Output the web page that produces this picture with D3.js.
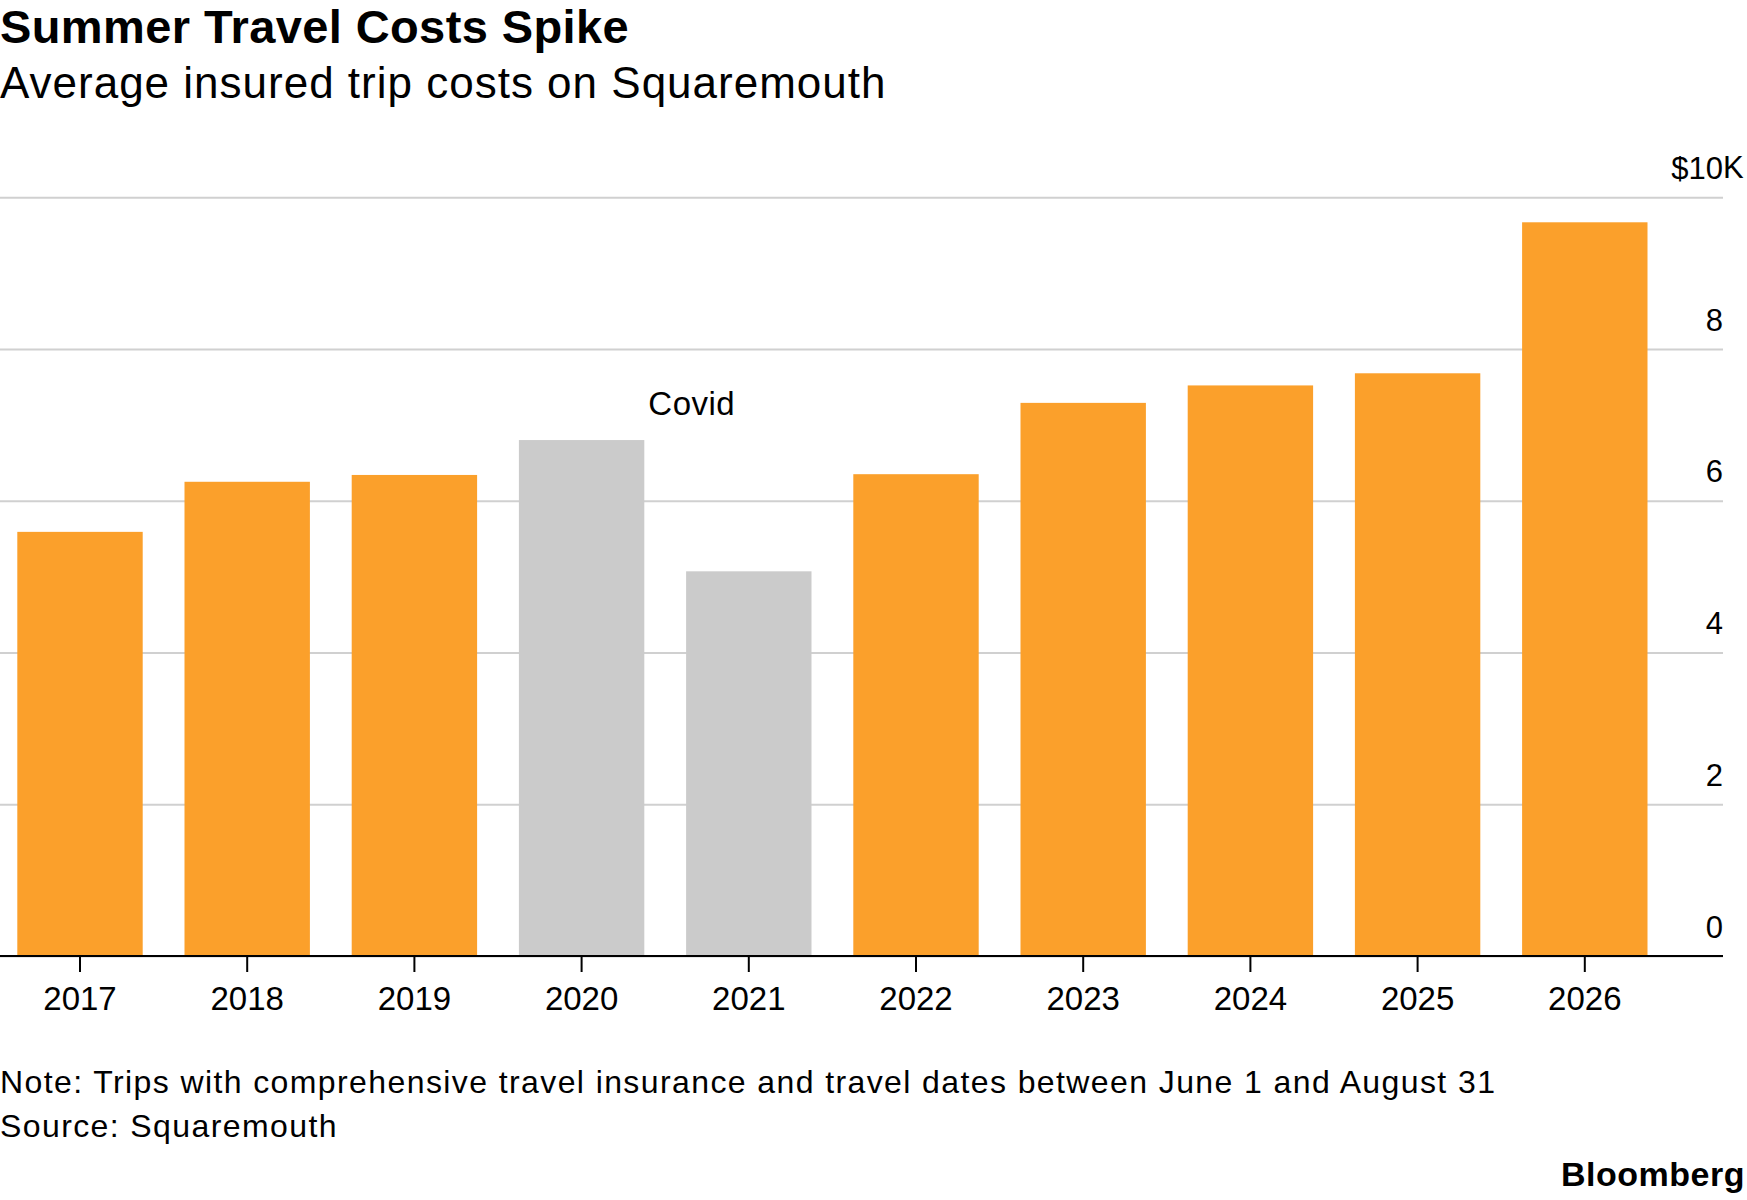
<!DOCTYPE html>
<html>
<head>
<meta charset="utf-8">
<script src="https://cdn.jsdelivr.net/npm/d3@7"></script>
<style>
  body { margin: 0; background: #fff; }
  svg { display: block; font-family: "Liberation Sans", Arial, sans-serif; }
</style>
</head>
<body>
<svg width="1747" height="1200"></svg>
<script>
const years = ['2017', '2018', '2019', '2020', '2021', '2022', '2023', '2024', '2025', '2026']
const costs = [5.59, 6.25, 6.34, 6.80, 5.07, 6.35, 7.29, 7.52, 7.68, 9.67] // $ thousands
const covidYears = ['2020', '2021']
const yTicks = [0, 2, 4, 6, 8, 10]

const svg = d3.select('svg')

// Title block
svg.append('text')
  .attr('x', 0).attr('y', 43)
  .attr('font-size', 47).attr('font-weight', 700)
  .attr('letter-spacing', 0.4)
  .text('Summer Travel Costs Spike')
svg.append('text')
  .attr('x', 0).attr('y', 98)
  .attr('font-size', 44)
  .attr('letter-spacing', 1)
  .text('Average insured trip costs on Squaremouth')

const x = d3.scaleBand()
  .domain(years)
  .range([-3.6, 1668.4])
  .paddingInner(0.25)
  .paddingOuter(0.125)
const y = d3.scaleLinear().domain([0, 10]).range([956, 197.25])

// gridlines + right-side labels
const yAxis = svg.append('g')
  .attr('transform', 'translate(1723,0)')
  .call(d3.axisLeft(y).tickValues(yTicks).tickSize(1723)
    .tickFormat((d) => (d === 10 ? '$10' : d)))
yAxis.select('.domain').remove()
yAxis.selectAll('line').attr('stroke', '#d0d0d0').attr('stroke-width', 2)
yAxis.selectAll('text')
  .attr('x', 0).attr('y', -19).attr('dy', null)
  .attr('text-anchor', 'end')
  .attr('font-size', 31).attr('font-family', null).attr('fill', '#000')
yAxis.append('text')
  .attr('x', 0).attr('y', y(10) - 19)
  .attr('text-anchor', 'start')
  .attr('font-size', 31).attr('fill', '#000')
  .text('K')

// bars
svg.append('g')
  .selectAll('rect')
  .data(years)
  .join('rect')
  .attr('x', (d) => x(d))
  .attr('width', x.bandwidth())
  .attr('y', (d, i) => y(costs[i]))
  .attr('height', (d, i) => y(0) - y(costs[i]))
  .attr('fill', (d) => (covidYears.includes(d) ? '#cbcbcb' : '#fba02b'))

// baseline + year ticks
const xAxis = svg.append('g')
  .attr('transform', `translate(0,${y(0)})`)
  .call(d3.axisBottom(x).tickSize(16).tickSizeOuter(0))
xAxis.select('.domain').remove()
xAxis.append('line')
  .attr('x1', 0).attr('x2', 1723)
  .attr('stroke', '#000').attr('stroke-width', 2)
xAxis.selectAll('.tick line').attr('stroke', '#000').attr('stroke-width', 2)
xAxis.selectAll('.tick text')
  .attr('y', 54).attr('dy', null)
  .attr('font-size', 33).attr('font-family', null).attr('fill', '#000')

// Covid annotation
svg.append('text')
  .attr('x', x('2020') + x.bandwidth() + 4)
  .attr('y', 415)
  .attr('font-size', 33)
  .attr('letter-spacing', 0.5)
  .text('Covid')

// footer
svg.append('text')
  .attr('x', 0).attr('y', 1093)
  .attr('font-size', 32)
  .attr('letter-spacing', 1.4)
  .text('Note: Trips with comprehensive travel insurance and travel dates between June 1 and August 31')
svg.append('text')
  .attr('x', 0).attr('y', 1137)
  .attr('font-size', 32)
  .attr('letter-spacing', 1.4)
  .text('Source: Squaremouth')
svg.append('text')
  .attr('x', 1745).attr('y', 1186)
  .attr('text-anchor', 'end')
  .attr('font-size', 34).attr('font-weight', 700)
  .attr('letter-spacing', 0.5)
  .text('Bloomberg')
</script>
</body>
</html>
